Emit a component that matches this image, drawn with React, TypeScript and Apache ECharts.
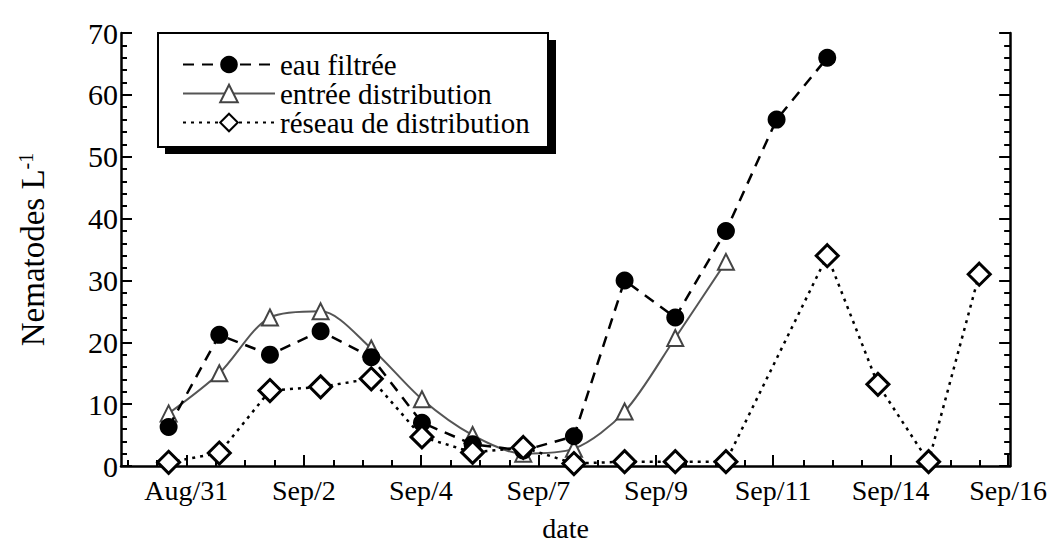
import React, { useEffect, useRef } from "react";
import * as echarts from "echarts";

// Daily values, first value = Aug 31 (day 0)
const eauFiltree: number[] = [6.3, 21.2, 18, 21.8, 17.6, 7, 3.5, 2.5, 4.8, 30, 24, 38, 56, 66];
const entreeDistribution: number[] = [8.5, 15, 24, 25, 19, 10.8, 5, 2, 2.8, 8.8, 20.7, 33];
const reseauDistribution: (number | null)[] = [0.6, 2.1, 12.2, 12.8, 14.1, 4.7, 2.2, 3, 0.4, 0.7, 0.7, 0.7, null, 34, 13.2, 0.7, 31];

const seriesNames = ["eau filtrée", "entrée distribution", "réseau de distribution"];

// x tick labels and their positions (days after Aug 31)
const tickLabels = ["Aug/31", "Sep/2", "Sep/4", "Sep/7", "Sep/9", "Sep/11", "Sep/14", "Sep/16"];
const tickDays = [0.35, 2.67, 4.98, 7.3, 9.62, 11.93, 14.25, 16.57];

const X_MIN = -0.94;
const X_MAX = 16.61;
const FONT = "'Liberation Serif', 'Times New Roman', serif";

const toPoints = (vals: (number | null)[]) =>
  vals.map((v, i) => (v === null ? null : [i, v])).filter((p) => p !== null) as number[][];

function minorTicks(): number[] {
  const step = (tickDays[1] - tickDays[0]) / 4;
  const out: number[] = [];
  let v = tickDays[0];
  while (v - step > X_MIN) v -= step;
  for (; v <= X_MAX; v += step) {
    if (!tickDays.some((t) => Math.abs(t - v) < 0.05)) out.push(+v.toFixed(3));
  }
  return out;
}

export default function App() {
  const ref = useRef<HTMLDivElement>(null);
  useEffect(() => {
    if (!ref.current) return;
    const chart = echarts.init(ref.current, undefined, { renderer: "svg" });
    const axisLine = { show: true, onZero: false, lineStyle: { color: "#000", width: 2.5 } };
    chart.setOption({
      animation: false,
      backgroundColor: "#fff",
      grid: { left: 112, right: 35, top: 25, bottom: 66, containLabel: false },
      legend: {
        orient: "vertical",
        left: 169,
        top: 37,
        itemGap: 0,
        itemWidth: 92,
        itemHeight: 22,
        z: 10,
        data: seriesNames,
        textStyle: { fontFamily: FONT, fontSize: 29, color: "#000" },
      },
      graphic: [
        { type: "rect", z: 5, shape: { x: 157, y: 32, width: 391, height: 114 }, style: { fill: "#000" } },
        { type: "rect", z: 6, shape: { x: 150, y: 25, width: 390, height: 114 }, style: { fill: "#fff", stroke: "#000", lineWidth: 2 } },
      ],
      xAxis: [
        {
          type: "value",
          min: X_MIN,
          max: X_MAX,
          splitLine: { show: false },
          axisLine,
          axisTick: { show: true, inside: true, length: 11, customValues: tickDays, lineStyle: { color: "#000", width: 2 } },
          axisLabel: {
            show: true,
            customValues: tickDays,
            margin: 10,
            fontFamily: FONT,
            fontSize: 28,
            color: "#000",
            formatter: (val: number) => {
              const i = tickDays.findIndex((t) => Math.abs(t - val) < 0.01);
              return i >= 0 ? tickLabels[i] : "";
            },
          },
          name: "date",
          nameLocation: "middle",
          nameGap: 48,
          nameTextStyle: { fontFamily: FONT, fontSize: 28, color: "#000" },
        },
        {
          type: "value",
          min: X_MIN,
          max: X_MAX,
          position: "bottom",
          splitLine: { show: false },
          axisLine: { show: false, onZero: false },
          axisTick: { show: true, inside: true, length: 6, customValues: minorTicks(), lineStyle: { color: "#000", width: 2 } },
          axisLabel: { show: false },
        },
      ],
      yAxis: [
        {
          type: "value",
          min: 0,
          max: 70,
          interval: 10,
          position: "left",
          splitLine: { show: false },
          axisLine,
          axisTick: { show: true, inside: true, length: 11, lineStyle: { color: "#000", width: 2 } },
          minorTick: { show: true, splitNumber: 5, length: 6, lineStyle: { color: "#000", width: 2 } },
          axisLabel: { margin: 3, fontFamily: FONT, fontSize: 30, color: "#000" },
          name: "{a|Nematodes L}{b|-1}",
          nameLocation: "middle",
          nameGap: 72,
          nameTextStyle: {
            fontFamily: FONT,
            fontSize: 33,
            color: "#000",
            rich: {
              a: { fontFamily: FONT, fontSize: 33, color: "#000" },
              b: { fontFamily: FONT, fontSize: 20, color: "#000", verticalAlign: "top" },
            },
          },
        },
        {
          type: "value",
          min: 0,
          max: 70,
          interval: 10,
          position: "right",
          splitLine: { show: false },
          axisLine,
          axisTick: { show: true, inside: true, length: 11, lineStyle: { color: "#000", width: 2 } },
          minorTick: { show: true, splitNumber: 5, length: 6, lineStyle: { color: "#000", width: 2 } },
          axisLabel: { show: false },
        },
      ],
      series: [
        {
          name: seriesNames[0],
          type: "line",
          data: toPoints(eauFiltree),
          symbol: "circle",
          symbolSize: 18,
          z: 3,
          lineStyle: { color: "#000", width: 2.5, type: [11, 8] },
          itemStyle: { color: "#000" },
        },
        {
          name: seriesNames[1],
          type: "line",
          data: toPoints(entreeDistribution),
          symbol: "triangle",
          symbolSize: 16,
          smooth: 0.3,
          z: 2,
          lineStyle: { color: "#555", width: 2, type: "solid" },
          itemStyle: { color: "#fff", borderColor: "#444", borderWidth: 2 },
        },
        {
          name: seriesNames[2],
          type: "line",
          data: toPoints(reseauDistribution),
          symbol: "diamond",
          symbolSize: 22,
          z: 4,
          lineStyle: { color: "#000", width: 2.5, type: [3, 5] },
          itemStyle: { color: "#fff", borderColor: "#000", borderWidth: 3 },
        },
      ],
    });
    return () => chart.dispose();
  }, []);
  return <div ref={ref} style={{ width: 1042, height: 539 }} />;
}
